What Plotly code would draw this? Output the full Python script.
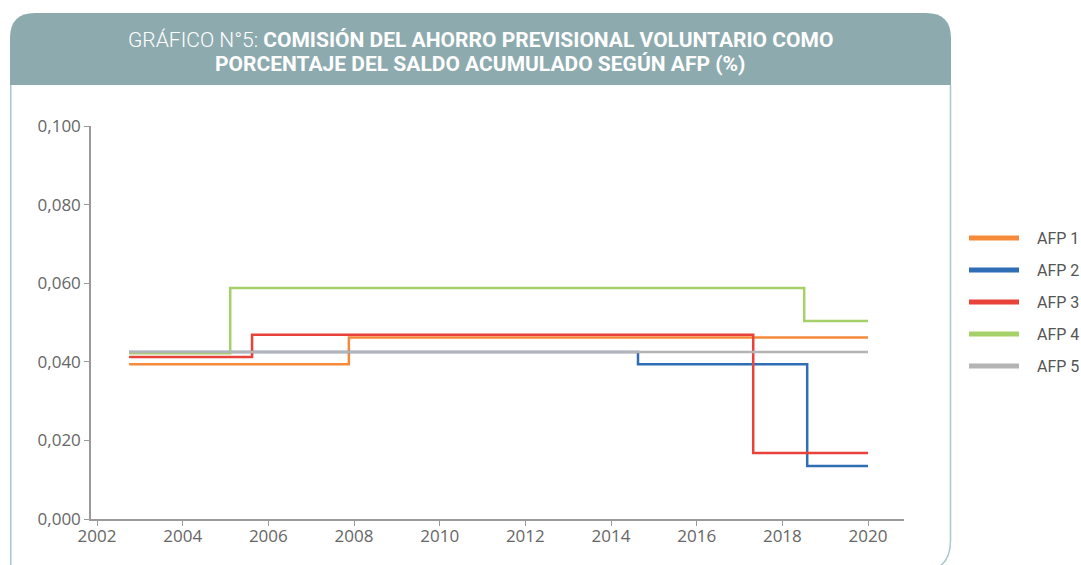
import plotly.graph_objects as go

# ---- data (decimal years, commission %) ----
series_names = ["AFP 1", "AFP 2", "AFP 3", "AFP 4", "AFP 5"]
afp1_x = [2002.75, 2007.88, 2020.0]
afp1_y = [0.0394, 0.0462, 0.0462]
afp2_x = [2002.75, 2014.63, 2018.58, 2020.0]
afp2_y = [0.0425, 0.0394, 0.0135, 0.0135]
afp3_x = [2002.75, 2005.62, 2017.32, 2020.0]
afp3_y = [0.0412, 0.0469, 0.0168, 0.0168]
afp4_x = [2002.75, 2005.11, 2018.51, 2020.0]
afp4_y = [0.0422, 0.0588, 0.0504, 0.0504]
afp5_x = [2002.75, 2020.0]
afp5_y = [0.0425, 0.0425]
x_ticks = [2002, 2004, 2006, 2008, 2010, 2012, 2014, 2016, 2018, 2020]
y_ticks = [0.0, 0.02, 0.04, 0.06, 0.08, 0.10]

colors = ["#F58A3B", "#2F6DB5", "#E8423B", "#A5D06A", "#B4B4B4"]
xs = [afp1_x, afp2_x, afp3_x, afp4_x, afp5_x]
ys = [afp1_y, afp2_y, afp3_y, afp4_y, afp5_y]

W, H = 1081, 565
L, R, T, B = 91, 904, 126, 519


def px(x):
    return (x - L) / (R - L)


def py(y):
    return (B - y) / (B - T)


fig = go.Figure()
for name, x, y, c in zip(series_names, xs, ys, colors):
    fig.add_trace(go.Scatter(x=x, y=y, mode="lines", name=name,
                             line=dict(color=c, width=2.5, shape="hv"),
                             showlegend=False))

shapes = []
# header band with rounded top corners
hdr = (f"M {px(10)},{py(85)} L {px(10)},{py(38)} Q {px(10)},{py(13)} {px(35)},{py(13)} "
       f"L {px(926)},{py(13)} Q {px(951)},{py(13)} {px(951)},{py(38)} L {px(951)},{py(85)} Z")
shapes.append(dict(type="path", xref="paper", yref="paper", path=hdr,
                   fillcolor="#8DABAF", line=dict(width=0), layer="below"))
# frame lines
frame_l = f"M {px(10.8)},{py(85)} L {px(10.8)},{py(570)}"
frame_r = (f"M {px(950.5)},{py(85)} L {px(950.5)},{py(540)} "
           f"Q {px(950.5)},{py(562)} {px(936)},{py(568)}")
for p in (frame_l, frame_r):
    shapes.append(dict(type="path", xref="paper", yref="paper", path=p,
                       line=dict(color="#A9C6CB", width=1.5)))

annotations = []
# legend (custom)
leg_y = [238, 270, 302, 334, 366]
for name, c, yy in zip(series_names, colors, leg_y):
    shapes.append(dict(type="line", xref="paper", yref="paper",
                       x0=px(969), x1=px(1019), y0=py(yy), y1=py(yy),
                       line=dict(color=c, width=5)))
    annotations.append(dict(xref="paper", yref="paper", x=px(1035), y=py(yy),
                            xanchor="left", yanchor="middle", showarrow=False,
                            text=name,
                            font=dict(family="Roboto", size=16, color="#555555")))

title_font = dict(family="Roboto", size=21, color="#FFFFFF")
title_l1 = ("<span style='font-weight:300'>GRÁFICO N°5: </span>"
            "<b>COMISIÓN DEL AHORRO PREVISIONAL VOLUNTARIO COMO</b>")
title_l2 = "<b>PORCENTAJE DEL SALDO ACUMULADO SEGÚN AFP (%)</b>"
for txt, yy in ((title_l1, 40), (title_l2, 64)):
    annotations.append(dict(xref="paper", yref="paper", x=px(480), y=py(yy),
                            xanchor="center", yanchor="middle", showarrow=False,
                            text=txt, align="center", font=title_font))

tickfont = dict(family="Open Sans, DejaVu Sans", size=17, color="#666666")
fig.update_layout(
    width=W, height=H,
    margin=dict(l=L, r=W - R, t=T, b=H - B, pad=0),
    paper_bgcolor="white", plot_bgcolor="white",
    separators=",.",
    shapes=shapes, annotations=annotations,
    xaxis=dict(range=[2001.86, 2020.84], tickvals=x_ticks, ticks="outside",
               ticklen=5, tickcolor="#9A9A9A", showline=True, linecolor="#9A9A9A",
               linewidth=1.5, showgrid=False, zeroline=False, tickfont=tickfont,
               ticklabelstandoff=-4, fixedrange=True),
    yaxis=dict(range=[0, 0.1], tickvals=y_ticks, tickformat=".3f", ticks="outside",
               ticklen=5, tickcolor="#9A9A9A", showline=True, linecolor="#9A9A9A",
               linewidth=1.5, showgrid=False, zeroline=False, tickfont=tickfont,
               fixedrange=True),
)

fig.write_html("out.html", config={"displayModeBar": False},
               post_script="document.body.style.margin='0px';")
